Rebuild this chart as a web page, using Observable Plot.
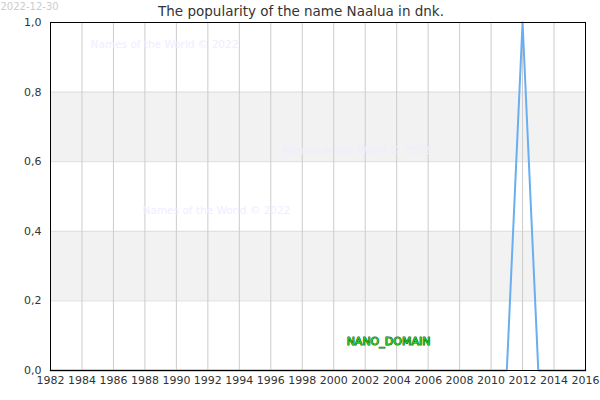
<!DOCTYPE html>
<html>
<head>
<meta charset="utf-8">
<script src="https://cdn.jsdelivr.net/npm/d3@7"></script>
<script src="https://cdn.jsdelivr.net/npm/@observablehq/plot@0.6"></script>
<style>
body { margin: 0; background: #fff; }
#chart svg { display: block; }
</style>
</head>
<body>
<div id="chart"></div>
<script>
const years = [1982,1983,1984,1985,1986,1987,1988,1989,1990,1991,1992,1993,1994,1995,1996,1997,1998,1999,2000,2001,2002,2003,2004,2005,2006,2007,2008,2009,2010,2011,2012,2013,2014,2015,2016];
const values = [0,0,0,0,0,0,0,0,0,0,0,0,0,0,0,0,0,0,0,0,0,0,0,0,0,0,0,0,0,0,1,0,0,0,0];
const xTicks = [1982,1984,1986,1988,1990,1992,1994,1996,1998,2000,2002,2004,2006,2008,2010,2012,2014,2016];
const yTicks = [0,0.2,0.4,0.6,0.8,1.0];
const bandLows = [0.2,0.6];
const bandHighs = [0.4,0.8];
const title = "The popularity of the name Naalua in dnk.";
const dateLabel = "2022-12-30";
const watermark = "Names of the World © 2022";
const domainLabel = "NANO_DOMAIN";

const data = years.map((y, i) => ({year: y, value: values[i]}));
const bands = bandLows.map((lo, i) => ({lo, hi: bandHighs[i]}));
const hLines = yTicks.filter(v => v > 0 && v < 1);

const font = "DejaVu Sans, sans-serif";

const chart = Plot.plot({
  width: 600,
  height: 400,
  marginTop: 22,
  marginBottom: 30,
  marginLeft: 50,
  marginRight: 15,
  style: {fontFamily: font, fontSize: "11px", color: "#333", background: "#fff"},
  x: {domain: [1982, 2016], ticks: xTicks, tickFormat: d => String(d), tickSize: 0, tickPadding: 6, label: null},
  y: {domain: [0, 1], ticks: yTicks, tickFormat: d => d.toFixed(1).replace(".", ","), tickSize: 0, tickPadding: 9, label: null},
  marks: [
    Plot.rectY(bands, {y1: "lo", y2: "hi", fill: "#f2f2f2"}),
    Plot.ruleY(hLines, {stroke: "#dddddd", strokeWidth: 1}),
    Plot.ruleX(xTicks.slice(1, -1), {stroke: "#cccccc", strokeWidth: 1}),
    Plot.text([watermark], {frameAnchor: "top-left", textAnchor: "middle", lineAnchor: "middle", dx: 114, dy: 22, fill: "#eeeeff", fontSize: 10.5}),
    Plot.text([watermark], {frameAnchor: "top-left", textAnchor: "middle", lineAnchor: "middle", dx: 306, dy: 128, fill: "#eeeeff", fontSize: 10.5}),
    Plot.text([watermark], {frameAnchor: "top-left", textAnchor: "middle", lineAnchor: "middle", dx: 166, dy: 188, fill: "#eeeeff", fontSize: 10.5}),
    Plot.line(data, {x: "year", y: "value", stroke: "#6aaef0", strokeWidth: 2}),
    Plot.frame({stroke: "#000", strokeWidth: 1}),
    Plot.text([domainLabel], {frameAnchor: "top-left", textAnchor: "middle", lineAnchor: "middle", dx: 338, dy: 319, fill: "#33cc33", stroke: "#006600", strokeWidth: 1, fontSize: 11}),
    Plot.text([title], {frameAnchor: "top", textAnchor: "middle", lineAnchor: "middle", dx: -17, dy: -11, fill: "#333", fontSize: 13.5}),
    Plot.text([dateLabel], {frameAnchor: "top-left", textAnchor: "start", lineAnchor: "top", dx: -50, dy: -20, fill: "#cccccc", fontSize: 10})
  ]
});
document.getElementById("chart").appendChild(chart);
</script>
</body>
</html>
